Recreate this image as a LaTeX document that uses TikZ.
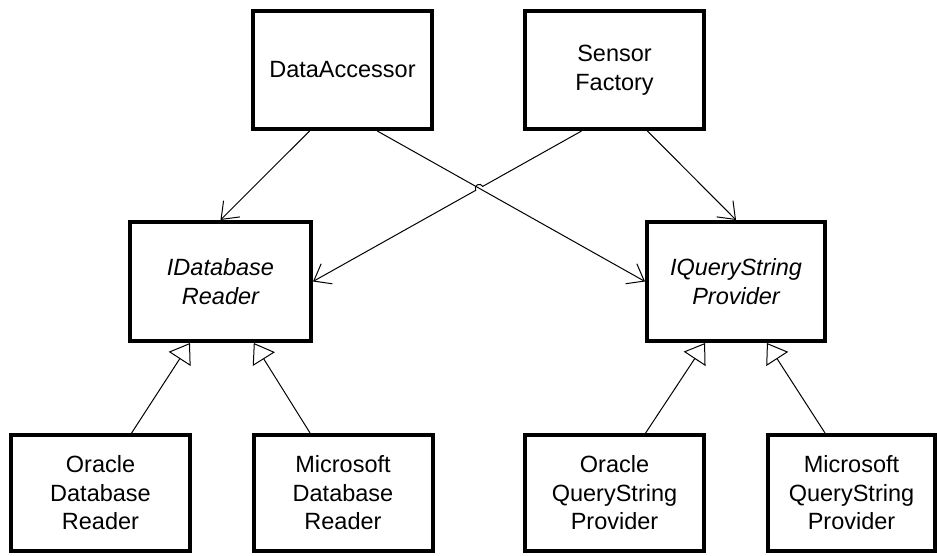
\documentclass[tikz,border=0pt]{standalone}
\usepackage{fontspec}
\setmainfont{Liberation Sans}
\usetikzlibrary{arrows.meta,calc,intersections}
\begin{document}
\begin{tikzpicture}[x=1pt,y=1pt,
  box/.style={draw, line width=4pt, rectangle, minimum width=179pt, minimum height=118pt,
    align=center, inner sep=0pt, font=\fontsize{23.5}{28.5}\selectfont},
  conn/.style={line width=1pt, -{Straight Barb[length=15pt,width=23pt,line width=1pt]}},
  inh/.style={line width=1pt, -{Triangle[open,fill=white,length=19pt,width=26pt,line width=1pt]}}]
\useasboundingbox (0,0) rectangle (937,556);
\node[box] (DA) at (342.5,486) {DataAccessor};
\node[box] (SF) at (614.5,486) {Sensor\\Factory};
\node[box, minimum width=181pt, minimum height=119pt, font=\fontsize{23.5}{28.5}\selectfont\itshape] (IDR) at (220.5,274.5) {IDatabase\\Reader};
\node[box, minimum width=178pt, minimum height=119pt, font=\fontsize{23.5}{28.5}\selectfont\itshape] (IQSP) at (736,274.5) {IQueryString\\Provider};
\node[box, minimum height=116pt] (ODR) at (100.5,63) {Oracle\\Database\\Reader};
\node[box, minimum height=116pt] (MDR) at (343,63) {Microsoft\\Database\\Reader};
\node[box, minimum height=116pt] (OQSP) at (614.5,63) {Oracle\\QueryString\\Provider};
\node[box, minimum height=116pt, minimum width=167pt] (MQSP) at (851.5,63) {Microsoft\\QueryString\\Provider};

% association connectors
\coordinate (a1) at ($(DA.south west)!0.32!(DA.south east)$);
\draw[conn] (a1) -- (IDR.north);
\coordinate (a2) at ($(DA.south west)!0.69!(DA.south east)$);
\coordinate (a3) at ($(SF.south west)!0.32!(SF.south east)$);
\coordinate (a4) at ($(SF.south west)!0.68!(SF.south east)$);
\path[name path=pda] (a2) -- (IQSP.west);
\path[name path=psf] (a3) -- (IDR.east);
\path[name intersections={of=pda and psf, by=X}];
\draw[conn] (a2) -- (IQSP.west);
\draw[conn] let \p1=($(a3)-(X)$), \n1={atan2(\y1,\x1)} in
  (a3) -- ($(X)!4pt!(a3)$) arc[start angle=\n1, end angle=\n1+180, radius=4pt] -- (IDR.east);
\draw[conn] (a4) -- (IQSP.north);

% inheritance connectors
\draw[inh] ($(ODR.north west)!0.67!(ODR.north east)$) -- ($(IDR.south west)!0.335!(IDR.south east)$);
\draw[inh] ($(MDR.north west)!0.32!(MDR.north east)$) -- ($(IDR.south west)!0.68!(IDR.south east)$);
\draw[inh] ($(OQSP.north west)!0.67!(OQSP.north east)$) -- ($(IQSP.south west)!0.33!(IQSP.south east)$);
\draw[inh] ($(MQSP.north west)!0.345!(MQSP.north east)$) -- ($(IQSP.south west)!0.67!(IQSP.south east)$);
\end{tikzpicture}
\end{document}
